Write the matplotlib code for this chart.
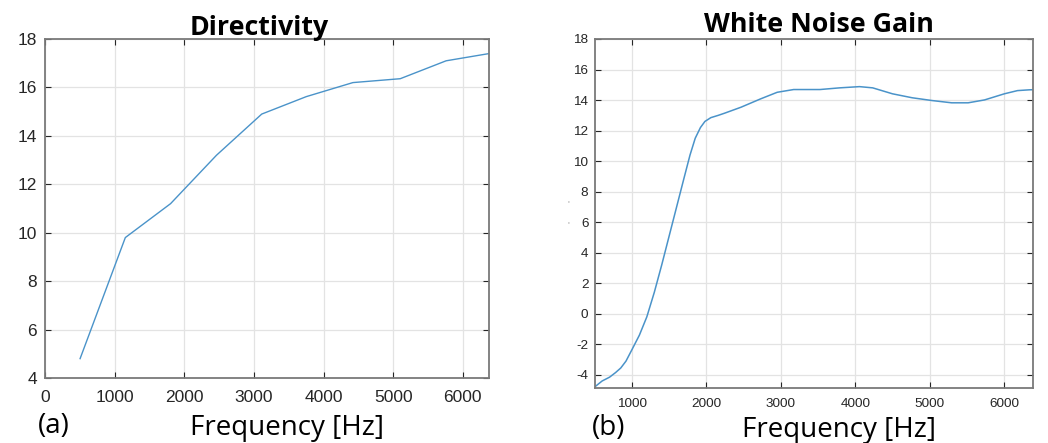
import matplotlib
matplotlib.use("Agg")
import matplotlib.pyplot as plt

plt.rcParams["axes.unicode_minus"] = False

# ---- data ----
dir_freq = [500, 1150, 1800, 2460, 3110, 3750, 4420, 5100, 5760, 6380]
dir_vals = [4.8, 9.8, 11.2, 13.2, 14.9, 15.62, 16.2, 16.36, 17.1, 17.4]

wng_freq = [503, 600, 700, 780, 850, 920, 1000, 1100, 1200, 1300, 1400, 1500,
            1600, 1700, 1780, 1850, 1920, 1980, 2060, 2160, 2244, 2464, 2729,
            2951, 3172, 3525, 3790, 4056, 4233, 4499, 4764, 5029, 5294, 5515,
            5736, 6001, 6178, 6333, 6390]
wng_vals = [-4.78, -4.4, -4.15, -3.85, -3.55, -3.1, -2.35, -1.4, -0.2, 1.4, 3.2, 5.1,
            7.0, 8.9, 10.4, 11.5, 12.2, 12.6, 12.85, 13.0, 13.14, 13.53, 14.08,
            14.51, 14.69, 14.69, 14.8, 14.88, 14.8, 14.41, 14.15, 13.97, 13.82,
            13.82, 14.01, 14.41, 14.62, 14.67, 14.68]

dir_xticks = [0, 1000, 2000, 3000, 4000, 5000, 6000]
dir_yticks = [4, 6, 8, 10, 12, 14, 16, 18]
wng_xticks = [1000, 2000, 3000, 4000, 5000, 6000]
wng_yticks = [-4, -2, 0, 2, 4, 6, 8, 10, 12, 14, 16, 18]

titles = ["Directivity", "White Noise Gain"]
xlabel = "Frequency [Hz]"
panel_labels = ["(a)", "(b)"]

W, H = 1048, 443
LINE = "#4a93c9"
TICKC = "#262626"
SPINE = "#7a7a7a"
GRID = "#e3e3e3"

fig = plt.figure(figsize=(W / 100, H / 100), dpi=100)


def px(x0, y0, x1, y1):
    return [x0 / W, 1 - y1 / H, (x1 - x0) / W, (y1 - y0) / H]


def style(ax, fs, padx, pady):
    ax.grid(True, color=GRID, linewidth=0.9)
    ax.set_axisbelow(True)
    for s in ax.spines.values():
        s.set_color(SPINE)
        s.set_linewidth(1.3)
    ax.tick_params(direction="in", length=4, width=0.8, color=TICKC,
                   top=True, right=True, labelcolor=TICKC, labelsize=fs)
    ax.tick_params(axis="x", pad=padx)
    ax.tick_params(axis="y", pad=pady)
    for lab in ax.get_xticklabels() + ax.get_yticklabels():
        lab.set_fontfamily("Liberation Sans")


ax1 = fig.add_axes(px(45.3, 39, 489.3, 378))
ax1.plot(dir_freq, dir_vals, color=LINE, linewidth=1.0)
ax1.set_xlim(0, 6380)
ax1.set_ylim(4, 18)
ax1.set_xticks(dir_xticks)
ax1.set_yticks(dir_yticks)
style(ax1, 12.5, 9, 6)

ax2 = fig.add_axes(px(594.7, 39, 1033.3, 388.3))
ax2.plot(wng_freq, wng_vals, color=LINE, linewidth=1.1)
ax2.set_xlim(500, 6390)
ax2.set_ylim(-4.88, 18)
ax2.set_xticks(wng_xticks)
ax2.set_yticks(wng_yticks)
style(ax2, 9.7, 7, 4.5)

tfont = dict(family=["Open Sans", "DejaVu Sans"], fontweight="bold", fontsize=19.3)
fig.text(259 / W, 1 - 35 / H, titles[0], ha="center", va="baseline", **tfont)
fig.text(819 / W, 1 - 32 / H, titles[1], ha="center", va="baseline", **tfont)

lfont = dict(family=["Open Sans", "DejaVu Sans"], fontsize=20)
fig.text(287.5 / W, 1 - 435 / H, xlabel, ha="center", va="baseline", **lfont)
fig.text(839 / W, 1 - 437 / H, xlabel, ha="center", va="baseline", **lfont)
fig.text(38 / W, 1 - 433 / H, panel_labels[0], ha="left", va="baseline", **lfont)
fig.text(592 / W, 1 - 435 / H, panel_labels[1], ha="left", va="baseline", **lfont)

# remnants of a cropped y-label on panel (b)
fig.text(568 / W, 1 - 203 / H, "'", ha="center", va="center", fontsize=5, color="#888888")
fig.text(568 / W, 1 - 224 / H, "'", ha="center", va="center", fontsize=5, color="#888888")

fig.savefig("out.png", dpi=100)
